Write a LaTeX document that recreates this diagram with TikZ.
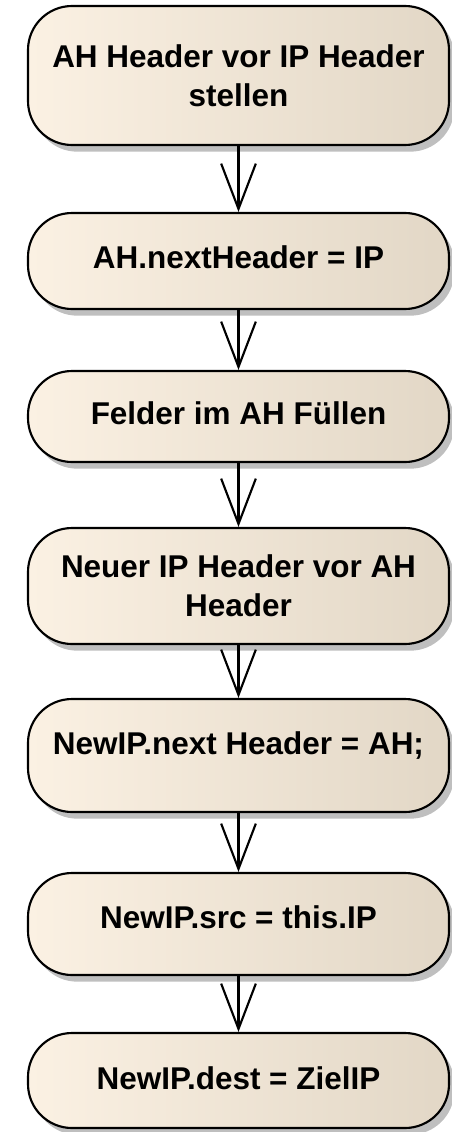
\documentclass[tikz,border=0pt]{standalone}
\usepackage{fontspec}
\setmainfont{Liberation Sans}
\usetikzlibrary{shadows}
\usetikzlibrary{arrows.meta}

\definecolor{boxlight}{HTML}{FBF1E3}
\definecolor{boxdark}{HTML}{E2D7C6}

\begin{document}
\begin{tikzpicture}[x=0.75pt, y=-0.75pt,
  act/.style={
    draw, line width=1.6pt,
    rounded corners=33pt,
    left color=boxlight, middle color=boxlight, right color=boxdark,
    drop shadow={shadow xshift=4pt, shadow yshift=-5pt, fill=black!25, opacity=1},
    minimum width=315.75pt, align=center,
    font=\bfseries\fontsize{23.6}{29.5}\selectfont},
  oneline/.style={text height=17pt, text depth=#1},
  flow/.style={line width=1.6pt,
    -{Straight Barb[length=34pt, width=26pt, line width=1.6pt]}}]
  \useasboundingbox (0,0) rectangle (452,1132);
  % draw the activity nodes
  \node[act, minimum height=104.25pt] (a1) at (238.5, 75.5) {AH Header vor IP Header\\stellen};
  \node[act, minimum height=72pt, oneline=6pt] (a2) at (238.5, 261) {AH.nextHeader = IP};
  \node[act, minimum height=68.25pt, oneline=5pt] (a3) at (238.5, 416.5) {Felder im AH Füllen};
  \node[act, minimum height=87pt] (a4) at (238.5, 586) {Neuer IP Header vor AH\\Header};
  \node[act, minimum height=84.75pt, oneline=19pt] (a5) at (238.5, 755.5) {NewIP.next Header = AH;};
  \node[act, minimum height=76.5pt, oneline=10.5pt] (a6) at (238.5, 924) {NewIP.src = this.IP};
  \node[act, minimum height=71.25pt, oneline=4pt] (a7) at (238.5, 1080.5) {NewIP.dest = ZielIP};
  % draw control flow
  \foreach \step in {1,...,6} {
    \pgfmathtruncatemacro{\next}{add(\step,1)}
    \draw[flow] (a\step.south) -- (a\next.north);
  }
\end{tikzpicture}
\end{document}
